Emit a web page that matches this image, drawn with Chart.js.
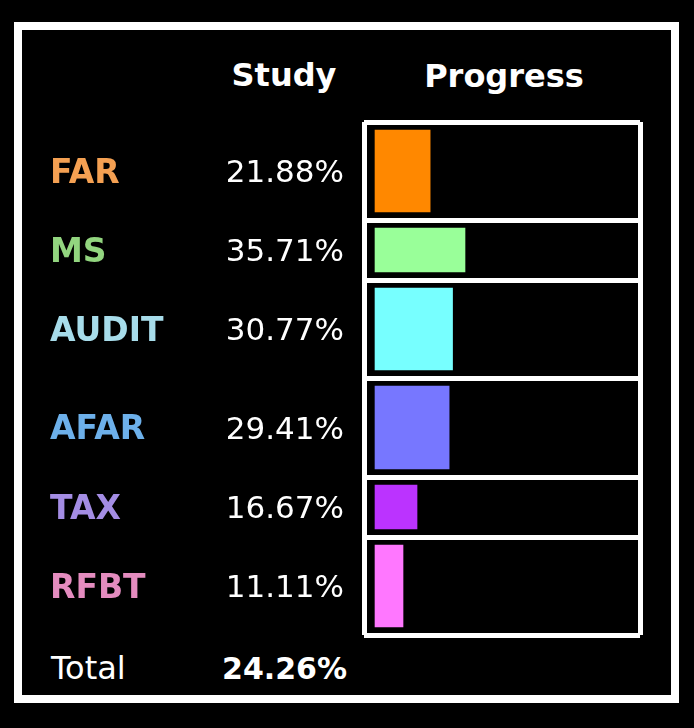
<!DOCTYPE html>
<html>
<head>
<meta charset="utf-8">
<title>Study Progress</title>
<script src="https://cdn.jsdelivr.net/npm/chart.js@4.4.0/dist/chart.umd.min.js"></script>
<style>
    html, body { margin: 0; padding: 0; background: #000; }
    body { width: 694px; height: 728px; position: relative; overflow: hidden; font-family: 'DejaVu Sans', sans-serif; color: #fff; }
    .frame { position: absolute; left: 14px; top: 22px; width: 665px; height: 681px; box-sizing: border-box; border: 8px solid #fff; }
    .head { position: absolute; top: 59px; width: 200px; text-align: center; font-weight: bold; font-size: 32px; line-height: 32px; }
    .total { position: absolute; left: 51px; top: 652px; font-size: 32px; line-height: 32px; }
    .total-val { position: absolute; left: 147px; top: 654px; width: 200px; text-align: right; font-weight: bold; font-size: 30px; line-height: 30px; }
    canvas { position: absolute; left: 0; top: 0; }
</style>
</head>
<body>
<div class="frame"></div>
<div class="head" style="left: 184px;">Study</div>
<div class="head" style="left: 404px; top: 60px;">Progress</div>
<div class="total">Total</div>
<div class="total-val" id="total-val"></div>
<canvas id="progressChart" width="694" height="728"></canvas>

<script>
// Data read from the sheet
var subjects = ['FAR', 'MS', 'AUDIT', 'AFAR', 'TAX', 'RFBT'];
var studyPct = [21.88, 35.71, 30.77, 29.41, 16.67, 11.11];
var totalPct = 24.26;
var labelColors = ['#f4a052', '#92d57f', '#a7dcea', '#6db0ea', '#a48de4', '#e48cbf'];
var barColors = ['#ff8800', '#99ff99', '#77ffff', '#7777ff', '#bb33ff', '#ff77ff'];

// sheet rows are not all the same height (px)
var rowHeights = [98, 60, 98, 99, 60, 98];
var rowEdges = [0];
rowHeights.forEach(function(h) { rowEdges.push(rowEdges[rowEdges.length - 1] + h); });
var rowMid = rowHeights.map(function(h, i) { return rowEdges[i] + h / 2; });
var yMax = rowEdges[rowEdges.length - 1];

document.getElementById('total-val').textContent = totalPct.toFixed(2) + '%';

var datasets = subjects.map(function(name, i) {
    return {
        label: name,
        data: [{ x: studyPct[i], y: rowMid[i] }],
        backgroundColor: barColors[i],
        barThickness: rowHeights[i] - 16,
        stack: 'rows',
        yAxisID: 'y'
    };
});

function rowAxis(weight, width) {
    return {
        axis: 'y',
        type: 'linear',
        position: 'left',
        weight: weight,
        reverse: true,
        min: 0,
        max: yMax,
        offset: false,
        border: { display: false },
        grid: { display: false, drawTicks: false, offset: false },
        afterFit: function(scale) { scale.width = width; }
    };
}

var nameAxis = rowAxis(2, 150);
nameAxis.afterBuildTicks = function(scale) {
    scale.ticks = rowMid.map(function(v) { return { value: v }; });
};
nameAxis.ticks = {
    autoSkip: false,
    crossAlign: 'far',
    padding: 0,
    labelOffset: 3,
    font: { family: 'DejaVu Sans', size: 33, weight: 'bold' },
    color: function(ctx) { return labelColors[ctx.index]; },
    callback: function(value, index) { return subjects[index]; }
};

var pctAxis = rowAxis(1, 164);
pctAxis.afterBuildTicks = nameAxis.afterBuildTicks;
pctAxis.ticks = {
    autoSkip: false,
    padding: 20,
    labelOffset: 3,
    font: { family: 'DejaVu Sans', size: 31 },
    color: '#ffffff',
    callback: function(value, index) { return studyPct[index].toFixed(2) + '%'; }
};

// white separators between the rows of the progress box
var gridAxis = rowAxis(0, 0);
gridAxis.afterBuildTicks = function(scale) {
    scale.ticks = rowEdges.map(function(v) { return { value: v }; });
};
gridAxis.ticks = { display: false };
gridAxis.grid = { display: true, color: '#ffffff', lineWidth: 5, drawTicks: false, offset: false };

var ctx = document.getElementById('progressChart').getContext('2d');
var progressChart = new Chart(ctx, {
    type: 'bar',
    data: { datasets: datasets },
    options: {
        indexAxis: 'y',
        responsive: false,
        animation: false,
        events: [],
        layout: { padding: { left: 50, right: 54, top: 122, bottom: 93 } },
        plugins: {
            legend: { display: false },
            tooltip: { enabled: false }
        },
        scales: {
            x: {
                type: 'linear',
                position: 'bottom',
                min: -4.37,
                max: 105.16,
                border: { display: false },
                ticks: { display: false },
                grid: { color: '#ffffff', lineWidth: 5, drawTicks: false },
                afterBuildTicks: function(scale) {
                    scale.ticks = [{ value: scale.min }, { value: scale.max }];
                }
            },
            y: nameAxis,
            pct: pctAxis,
            rows: gridAxis
        }
    }
});
</script>
</body>
</html>
